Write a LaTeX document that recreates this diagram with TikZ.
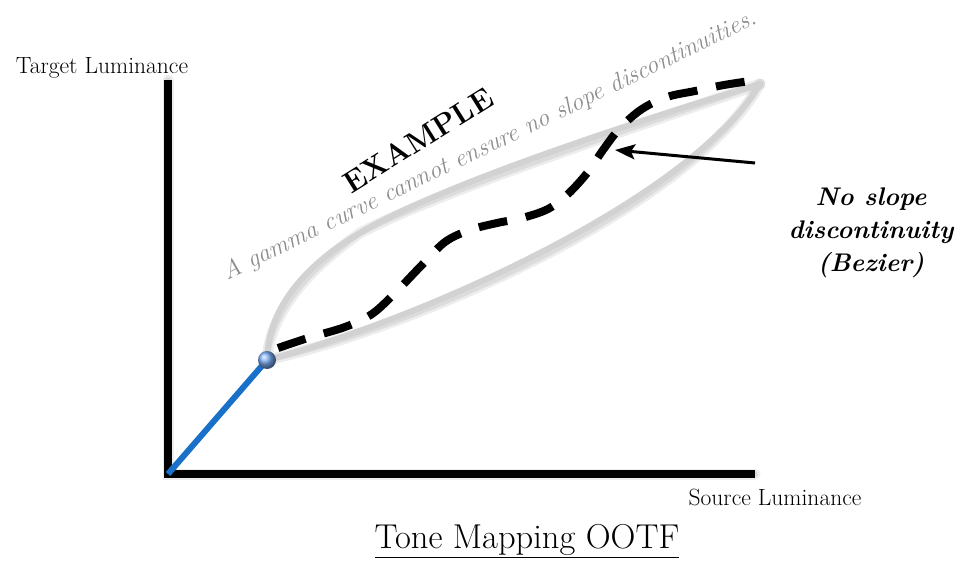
\documentclass[tikz,border=0pt]{standalone}
\usetikzlibrary{arrows.meta}
\definecolor{lensgray}{RGB}{210,210,210}
\definecolor{kneeblue}{RGB}{24,112,200}
\definecolor{ballblue}{RGB}{120,170,240}
\definecolor{notegray}{RGB}{140,140,140}
\tikzset{
	axisline/.style={line width=8pt, line join=miter},
	lensline/.style={line width=6pt, lensgray, line cap=round},
	bezierline/.style={line width=8pt, dash pattern=on 29pt off 19pt},
	softshadow/.style={black, opacity=0.07, line width=#1, shift={(2,5)}, line cap=round},
	axislabel/.style={font=\fontsize{23.5}{26}\selectfont},
}

\begin{document}
\begin{tikzpicture}[x=1pt, y=-1pt]
			\useasboundingbox (0,0) rectangle (955,561);
			% points of the plot
			\coordinate (O) at (168,474);
			\coordinate (Ytop) at (168,80);
			\coordinate (Xend) at (755,474);
			\coordinate (knee) at (267,360);
			\coordinate (bend) at (360,233);
			\coordinate (top) at (760,84);
			\coordinate (arrowtail) at (755,163);
			\coordinate (arrowtip) at (615,150);
			
			% shadows
			\foreach \w in {6,11} {
				\draw[softshadow=\w pt] (Ytop) -- (O) -- (Xend);
				\draw[softshadow=\w pt] (knee) .. controls (268,305) and (310,262) .. (bend)
					.. controls (440,185) and (640,120) .. (top);
				\draw[softshadow=\w pt] (knee) .. controls (420,320) and (690,200) .. (top);
			}
			
			% axes
			\draw[axisline] (Ytop) -- (O) -- (Xend);
			\draw[line width=6pt, kneeblue] (O) -- (knee);
			
			% gamma curves
			\draw[lensline] (knee) .. controls (268,305) and (310,262) .. (bend)
				.. controls (440,185) and (640,120) .. (top);
			\draw[lensline] (knee) .. controls (420,320) and (690,200) .. (top);
			
			% bezier curve
			\draw[bezierline] plot[smooth, tension=0.55] coordinates {(278,348) (308,338) (345,327) (372,314) (395,293) (420,267) (445,242) (470,230) (497,223) (522,218) (548,209) (568,194) (588,172) (603,150) (620,128) (642,109) (667,97) (695,91) (724,85) (757,80)};
			
			\shade[ball color=ballblue] (knee) circle (9);
			
			% arrow
			\draw[-{Stealth[length=20pt, width=15pt, inset=4pt]}, line width=3pt] (arrowtail) -- (arrowtip);
			
			% labels
			\node[axislabel] (ylabel) at (102,68) {Target Luminance};
			\node[axislabel] (xlabel) at (775,497) {Source Luminance};
			\node[font=\fontsize{34.5}{38}\selectfont] (title) at (527,541) {\underline{Tone Mapping OOTF}};
			\node[rotate=32, font=\fontsize{30}{34}\selectfont\bfseries] (example) at (418,140) {EXAMPLE};
			\node[rotate=25.8, notegray, font=\fontsize{25}{28}\selectfont\itshape] (gamma) at (490,146) {A gamma curve cannot ensure no slope discontinuities.};
			\node[align=center, font=\fontsize{25.5}{33}\selectfont\bfseries\itshape] (note) at (871,233) {No slope\\discontinuity\\(Bezier)};
\end{tikzpicture}
\end{document}
